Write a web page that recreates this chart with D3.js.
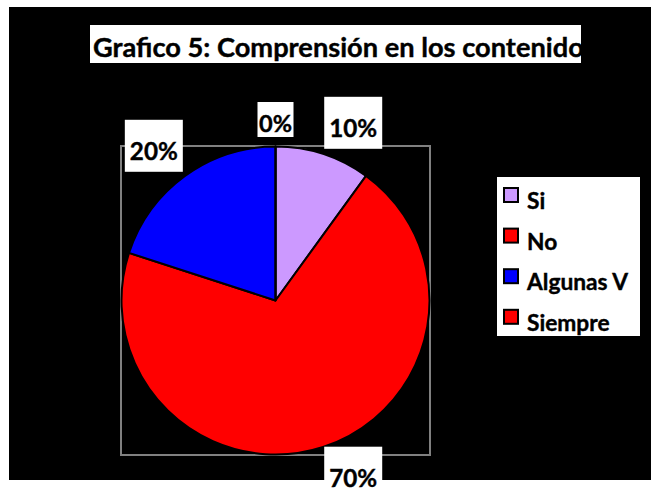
<!DOCTYPE html>
<meta charset="utf-8">
<script src="https://d3js.org/d3.v7.min.js"></script>
<style>body { margin: 0; background: #fff; }</style>
<svg id="chart" width="651" height="493"></svg>
<script>
// data
var categories = ["Si", "No", "Algunas V", "Siempre"]
var values = [10, 70, 20, 0]
var colors = ["#CC99FF", "#FF0000", "#0000FF", "#FF0000"]
var title = "Grafico 5: Comprensión en los contenido"

var svg = d3.select("#chart")
var font = "Lato, 'Open Sans', sans-serif"

// shrink/grow font so that the text takes the given width
function fit(sel, target) {
    sel.style("font-size", "20px")
    var w = sel.node().getComputedTextLength()
    sel.style("font-size", (20 * target / w) + "px")
}

// black chart area
svg.append("rect")
    .attr("x", 9).attr("y", 7)
    .attr("width", 642).attr("height", 473)
    .attr("fill", "#000")

// title
svg.append("clipPath").attr("id", "titleClip")
    .append("rect").attr("x", 90).attr("y", 25).attr("width", 491).attr("height", 38)
svg.append("rect")
    .attr("x", 90).attr("y", 25).attr("width", 491).attr("height", 38)
    .attr("fill", "#fff")
var t = svg.append("text")
    .attr("clip-path", "url(#titleClip)")
    .attr("x", 93).attr("y", 57)
    .style("font-family", font).style("font-weight", "bold")
    .attr("fill", "#000").attr("stroke", "#000").attr("stroke-width", 0.4)
    .text(title)
fit(t, 491)

// plot area
svg.append("rect")
    .attr("x", 121).attr("y", 146)
    .attr("width", 309).attr("height", 309)
    .attr("fill", "none")
    .attr("stroke", "#808080").attr("stroke-width", 2)

// pie
var cx = 275.5, cy = 300.5, radius = 154
var pie = d3.pie().sort(null).startAngle(0).endAngle(2 * Math.PI)
var arcs = pie(values)
var arc = d3.arc().innerRadius(0).outerRadius(radius)

var g = svg.append("g").attr("transform", "translate(" + cx + "," + cy + ")")
g.selectAll("path")
    .data(arcs)
    .enter().append("path")
    .attr("d", arc)
    .attr("fill", function (d, i) { return colors[i] })
    .attr("stroke", "#000")
    .attr("stroke-width", 2)
    .attr("stroke-linejoin", "round")

// data labels
var labelArc = d3.arc().innerRadius(190).outerRadius(190)
var nudge = [[19, 8], [19, -3.5], [-10, 4], [0, 12.5]]
var total = d3.sum(values)

arcs.forEach(function (d, i) {
    var c = labelArc.centroid(d)
    var x = cx + c[0] + nudge[i][0]
    var base = cy + c[1] + nudge[i][1] + 9
    var zero = d.value === 0
    var bw = zero ? 36 : 58
    svg.append("rect")
        .attr("x", x - bw / 2)
        .attr("y", zero ? base - 30 : base - 40)
        .attr("width", bw)
        .attr("height", zero ? 35 : 52)
        .attr("fill", "#fff")
    var lab = svg.append("text")
        .attr("x", x).attr("y", base)
        .attr("text-anchor", "middle")
        .style("font-family", font).style("font-weight", "bold")
        .attr("fill", "#000").attr("stroke", "#000").attr("stroke-width", 0.4)
        .text(Math.round(d.value / total * 100) + "%")
    fit(lab, zero ? 33 : 48)
})

// legend
var legend = svg.append("g")
legend.append("rect")
    .attr("x", 497).attr("y", 177)
    .attr("width", 143).attr("height", 159)
    .attr("fill", "#fff")

var legendSize = null
categories.forEach(function (c, i) {
    legend.append("rect")
        .attr("x", 504).attr("y", 188 + i * 40.6)
        .attr("width", 14).attr("height", 14)
        .attr("fill", colors[i])
        .attr("stroke", "#000").attr("stroke-width", 2)
    var lt = legend.append("text")
        .attr("x", 527).attr("y", 209 + i * 40.5)
        .style("font-family", font).style("font-weight", "bold")
        .attr("fill", "#000").attr("stroke", "#000").attr("stroke-width", 0.4)
        .text(c)
    if (c === "Algunas V") { fit(lt, 101); legendSize = lt.style("font-size") }
})
legend.selectAll("text").style("font-size", legendSize)
</script>
